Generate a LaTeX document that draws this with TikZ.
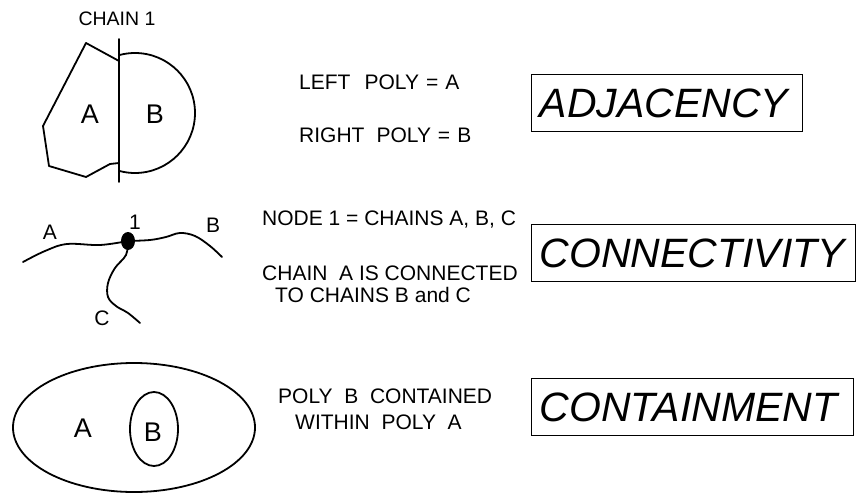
\documentclass[tikz,border=0pt]{standalone}
\usepackage{fontspec}
\setmainfont{Liberation Sans}
\usetikzlibrary{shapes.geometric}
\tikzset{
  shapeline/.style={line width=1.8pt, line join=round, line cap=round},
  midtext/.style={anchor=west, inner sep=0pt, font=\fontsize{21}{24}\selectfont},
  biglabel/.style={inner sep=0pt, font=\fontsize{27}{30}\selectfont},
  smalllabel/.style={inner sep=0pt, font=\fontsize{21}{24}\selectfont},
  termbox/.style={draw, line width=1.4pt, anchor=north west, inner xsep=8pt, inner ysep=0pt,
    minimum height=57pt, align=left, font=\fontsize{41}{44}\selectfont\itshape},
}
\begin{document}
\begin{tikzpicture}[x=1pt,y=-1pt]
\useasboundingbox (0,0) rectangle (858,494);
% ---------- Adjacency ----------
\node[smalllabel, font=\fontsize{19.5}{22}\selectfont] (chain1) at (117,19) {CHAIN 1};
\coordinate (ltop) at (119,39);
\coordinate (lbot) at (119,182);
\draw[shapeline] (ltop) -- (lbot);
\draw[shapeline] (119,61) -- (86,43) -- (43,126) -- (49,166) -- (86,177) -- (110,164) -- (119,163);
\begin{scope}
  \clip (119,0) rectangle (300,200);
  \draw[shapeline] (135,113) circle[radius=60pt];
\end{scope}
\node[biglabel] (pa) at (90,114) {A};
\node[biglabel] (pb) at (155,114) {B};
\node[midtext] (left) at (299,82) {LEFT\hspace{14pt}POLY\hspace{7pt}=\hspace{7pt}A};
\node[midtext] (right) at (299,135) {RIGHT\hspace{12pt}POLY\hspace{7pt}=\hspace{7pt}B};
\node[termbox, text width=255pt] (adj) at (531,74) {ADJACENCY};
% ---------- Connectivity ----------
\node[fill, ellipse, minimum width=14pt, minimum height=18pt, inner sep=0pt] (n1) at (128,241) {};
\draw[shapeline] plot[smooth, tension=0.6] coordinates {(23,262) (45,251) (67,244) (100,245) (n1.center)};
\draw[shapeline] plot[smooth, tension=0.6] coordinates {(n1.center) (150,240) (166,237) (180,233) (195,236) (210,246) (222,257)};
\draw[shapeline] plot[smooth, tension=0.6] coordinates {(n1.center) (126,255) (115,268) (108,283) (108,297) (116,306) (128,313) (140,323)};
\node[smalllabel] (ca) at (50,232) {A};
\node[smalllabel] (c1) at (135,222) {1};
\node[smalllabel] (cb) at (213,225) {B};
\node[smalllabel] (cc) at (102,318) {C};
\node[midtext] (node1) at (262,219.5) {NODE 1 = CHAINS A, B, C};
\node[midtext] (chainA) at (262,273) {CHAIN\ \ A IS CONNECTED};
\node[midtext] (tochains) at (275,295) {TO CHAINS B and C};
\node[termbox, text width=308pt] (con) at (531,224) {CONNECTIVITY};
% ---------- Containment ----------
\draw[shapeline] (134,427.5) ellipse[x radius=121pt, y radius=64.5pt];
\draw[shapeline] (154,429) ellipse[x radius=24pt, y radius=37pt];
\node[biglabel] (ea) at (83,428) {A};
\node[biglabel] (eb) at (153,432) {B};
\node[midtext] (polyb) at (278,396) {POLY\ \ B\ \ CONTAINED};
\node[midtext] (within) at (295,422) {WITHIN\ \ POLY\ \ A};
\node[termbox, text width=306pt] (cont) at (531,378) {CONTAINMENT};
\end{tikzpicture}
\end{document}
